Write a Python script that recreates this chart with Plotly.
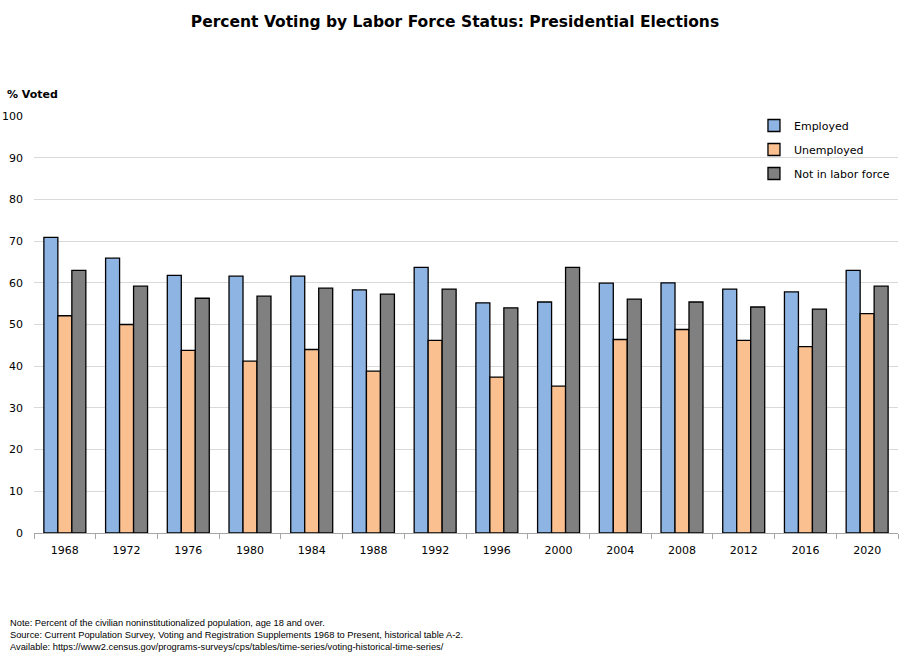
import plotly.graph_objects as go

years = ["1968", "1972", "1976", "1980", "1984", "1988", "1992", "1996", "2000",
         "2004", "2008", "2012", "2016", "2020"]
employed = [70.9, 65.9, 61.8, 61.6, 61.6, 58.3, 63.7, 55.2, 55.4, 59.9, 60.0, 58.5, 57.8, 63.0]
unemployed = [52.1, 50.0, 43.8, 41.2, 44.0, 38.8, 46.2, 37.4, 35.2, 46.4, 48.8, 46.2, 44.7, 52.6]
not_in_lf = [63.0, 59.2, 56.3, 56.8, 58.7, 57.3, 58.5, 54.0, 63.7, 56.1, 55.4, 54.2, 53.7, 59.2]

series = [
    ("Employed", employed, "#8EB4E3"),
    ("Unemployed", unemployed, "#FAC090"),
    ("Not in labor force", not_in_lf, "#808080"),
]

fig = go.Figure()
for name, vals, col in series:
    fig.add_trace(go.Bar(
        x=years, y=vals, name=name, legendgroup=name,
        marker=dict(color=col, line=dict(color="black", width=1.3)),
    ))

tick_font = dict(family="DejaVu Sans, Verdana, sans-serif", size=11, color="black")
foot_font = dict(family="Liberation Sans, Arial, sans-serif", size=9.3, color="black")

fig.update_layout(
    width=910, height=664,
    margin=dict(l=34, r=12, t=116, b=131, autoexpand=False),
    paper_bgcolor="white", plot_bgcolor="white",
    barmode="group", bargap=0.32, bargroupgap=0,
    showlegend=True,
    legend=dict(x=0.8333, y=1.012, xanchor="left", yanchor="top",
                font=dict(family="DejaVu Sans, Verdana, sans-serif", size=11, color="black"),
                bgcolor="rgba(255,255,255,0)", tracegroupgap=5, itemwidth=30),
    title=dict(text="<b>Percent Voting by Labor Force Status: Presidential Elections</b>",
               x=0.5, xanchor="center", y=0.967, yanchor="middle",
               font=dict(family="DejaVu Sans, Verdana, sans-serif", size=15.5, color="black")),
    xaxis=dict(type="category", tickson="boundaries", ticks="outside", ticklen=5,
               tickcolor="#A6A6A6", showline=True, linecolor="#A6A6A6", linewidth=1,
               showgrid=False, tickfont=tick_font, ticklabelstandoff=7, automargin=False),
    yaxis=dict(range=[0, 100], dtick=10, showgrid=True, gridcolor="#D9D9D9", gridwidth=1,
               showline=False, zeroline=False, ticks="", tickfont=tick_font,
               ticklabelstandoff=10, automargin=False),
)

fig.add_annotation(text="<b>% Voted</b>", xref="paper", yref="paper", x=-0.034, y=1.052,
                   xanchor="left", yanchor="middle", showarrow=False,
                   font=dict(family="DejaVu Sans, Verdana, sans-serif", size=11, color="black"))

notes = [
    "Note: Percent of the civilian noninstitutionalized population, age 18 and over.",
    "Source: Current Population Survey, Voting and Registration Supplements 1968 to Present, historical table A-2.",
    "Available: https://www2.census.gov/programs-surveys/cps/tables/time-series/voting-historical-time-series/",
]
for i, t in enumerate(notes):
    fig.add_annotation(text=t, xref="paper", yref="paper", x=-0.0305,
                       y=-(623 + 12 * i - 533) / 417.0, xanchor="left", yanchor="middle",
                       showarrow=False, font=foot_font)

fig.write_html("out.html", config={"displayModeBar": False},
               post_script="document.body.style.margin='0';document.body.style.overflow='hidden';")
